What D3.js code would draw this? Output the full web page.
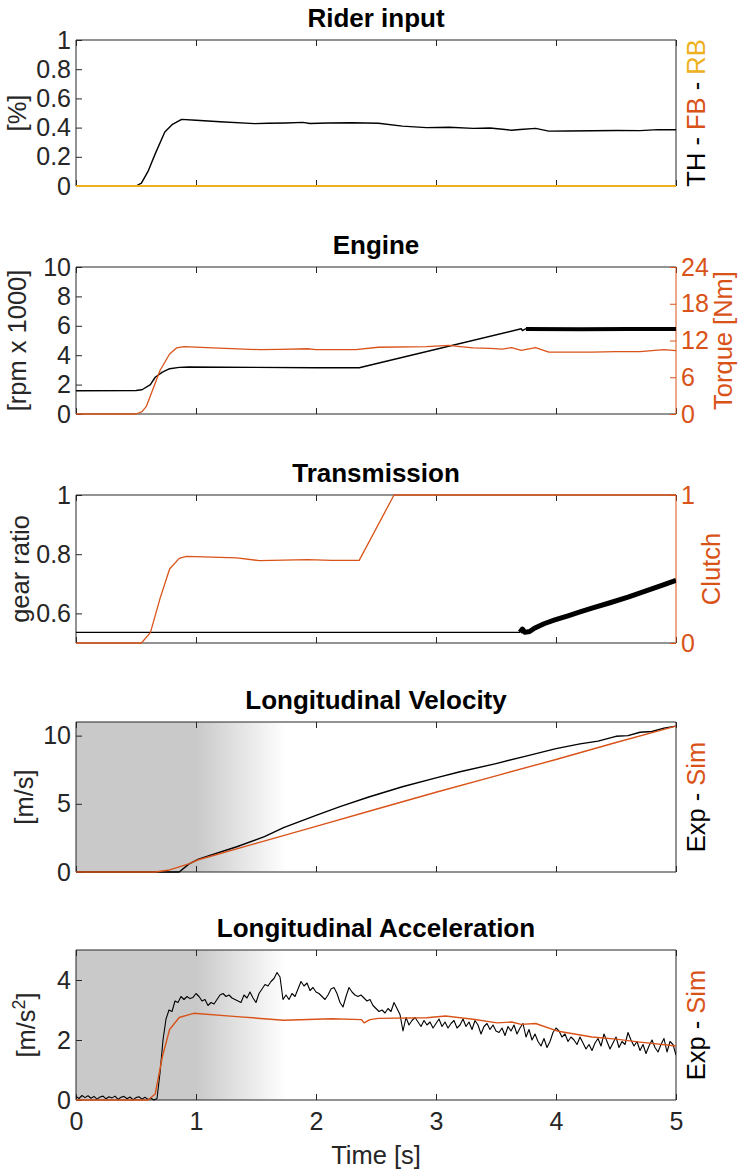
<!DOCTYPE html>
<html>
<head>
<meta charset="utf-8">
<script src="https://cdn.jsdelivr.net/npm/d3@7"></script>
<style>
  body { margin: 0; background: #fff; }
  text { font-family: "Liberation Sans", Arial, Helvetica, sans-serif; }
</style>
</head>
<body>
<div id="chart"></div>
<script>
const WIDTH = 741
const HEIGHT = 1172
const BLACK = '#000000'
const ORANGE = '#D95319'
const YELLOW = '#EDB120'
const AXIS_COLOR = '#262626'
const SHADE_COLOR = '#c9c9c9'
const TICK_FONT = 25
const LABEL_FONT = 25.5
const TITLE_FONT = 26

// ---- data ----
const T_DOMAIN = [0, 5]
const X_TICK_VALUES = [0, 1, 2, 3, 4, 5]
const PANEL_TITLES = ['Rider input', 'Engine', 'Transmission', 'Longitudinal Velocity', 'Longitudinal Acceleration']

// Rider input [t, value]
const throttle = [[0, 0], [0.5, 0], [0.545, 0.02], [0.6, 0.1], [0.66, 0.22], [0.74, 0.37], [0.8, 0.42], [0.88, 0.456],
  [1.0, 0.45], [1.2, 0.44], [1.49, 0.427], [1.6, 0.43], [1.75, 0.432], [1.89, 0.436], [1.95, 0.428], [2.1, 0.432],
  [2.3, 0.433], [2.52, 0.43], [2.72, 0.41], [2.92, 0.4], [3.11, 0.402], [3.31, 0.395], [3.45, 0.397], [3.63, 0.382],
  [3.7, 0.387], [3.83, 0.395], [3.94, 0.376], [4.1, 0.377], [4.3, 0.378], [4.5, 0.38], [4.7, 0.379], [4.85, 0.386], [5, 0.385]]
const frontBrake = [[0, 0], [5, 0]]
const rearBrake = [[0, 0], [5, 0]]

// Engine: rpm x 1000 (left) and torque Nm (right)
const engineRpm = [[0, 1.58], [0.5, 1.6], [0.55, 1.65], [0.62, 2.0], [0.66, 2.5], [0.72, 2.85], [0.78, 3.08], [0.86, 3.17],
  [0.94, 3.2], [1.5, 3.17], [2.0, 3.15], [2.36, 3.15], [3.71, 5.8], [3.72, 5.68], [3.75, 5.8]]
const engineRpmNoisy = [[3.75, 5.78], [4.2, 5.77], [4.6, 5.78], [5, 5.78]]
const engineTorque = [[0, 0], [0.5, 0], [0.55, 0.4], [0.585, 1.2], [0.64, 4], [0.7, 7.1], [0.78, 9.8], [0.84, 10.8],
  [0.9, 11.0], [1.14, 10.8], [1.53, 10.5], [1.7, 10.55], [1.93, 10.65], [2.0, 10.5], [2.33, 10.5], [2.52, 10.9],
  [2.92, 11.0], [3.11, 11.2], [3.2, 11.0], [3.31, 10.8], [3.45, 10.7], [3.55, 10.6], [3.63, 10.85], [3.71, 10.4],
  [3.83, 10.85], [3.94, 10.1], [4.3, 10.1], [4.5, 10.2], [4.7, 10.2], [4.9, 10.5], [5, 10.35]]

// Transmission: gear ratio (left) and clutch (right)
const gearRatio = [[0, 0.536], [3.7, 0.536]]
const gearRatioNoisy = [[3.7, 0.536], [3.72, 0.547], [3.74, 0.536], [3.78, 0.539], [3.82, 0.55], [3.9, 0.565],
  [3.99, 0.578], [4.1, 0.592], [4.2, 0.605], [4.3, 0.618], [4.45, 0.636], [4.6, 0.655], [4.78, 0.68], [4.9, 0.697], [5, 0.712]]
const clutch = [[0, 0], [0.545, 0], [0.62, 0.07], [0.7, 0.3], [0.78, 0.5], [0.86, 0.572], [0.92, 0.585], [1.34, 0.575],
  [1.53, 0.556], [1.93, 0.563], [2.13, 0.558], [2.36, 0.558], [2.65, 1], [5, 1]]

// Longitudinal velocity [m/s]
const velocityExp = [[0, 0], [0.86, 0], [0.94, 0.58], [1.02, 0.95], [1.34, 1.85], [1.57, 2.6], [1.73, 3.25], [2.0, 4.15],
  [2.2, 4.8], [2.44, 5.5], [2.72, 6.25], [3.0, 6.9], [3.2, 7.35], [3.5, 7.95], [3.75, 8.5], [4.0, 9.05], [4.2, 9.4],
  [4.35, 9.6], [4.5, 9.95], [4.6, 10.0], [4.7, 10.25], [4.8, 10.3], [4.9, 10.55], [5, 10.7]]
const velocitySim = [[0, 0], [0.66, 0], [0.78, 0.15], [0.94, 0.6], [1.02, 0.9], [1.5, 2.1], [2.0, 3.35], [2.5, 4.6],
  [3.0, 5.85], [3.5, 7.05], [4.0, 8.25], [4.5, 9.5], [5, 10.7]]

// Longitudinal acceleration [m/s^2], experiment sampled every ACC_DT seconds
const ACC_DT = 0.025
const accelExp = [
  0.12, 0.05, 0.15, 0.08, 0.14, 0.06, 0.12, 0.03, 0.10, 0.13,
  0.04, 0.11, 0.07, 0.13, 0.02, 0.09, 0.12, 0.04, 0.10, 0.01,
  0.08, 0.11, 0.03, 0.09, 0.02, 0.06, 0.00, 0.05, 0.9, 2.0,
  2.7, 3.0, 2.95, 3.3, 3.25, 3.45, 3.35, 3.45, 3.38, 3.42,
  3.55, 3.45, 3.3, 3.35, 3.15, 3.25, 3.2, 3.35, 3.5, 3.55,
  3.45, 3.5, 3.4, 3.35, 3.3, 3.25, 3.5, 3.4, 3.6, 3.4,
  3.25, 3.55, 3.7, 3.85, 3.8, 3.95, 4.05, 4.25, 4.1, 3.35,
  3.5, 3.35, 3.55, 3.45, 3.7, 3.95, 3.8, 3.9, 3.65, 3.75,
  3.6, 3.55, 3.45, 3.35, 3.5, 3.7, 3.75, 3.55, 3.25, 3.1,
  3.45, 3.75, 3.6, 3.5, 3.45, 3.5, 3.4, 3.3, 3.35, 3.15,
  3.05, 2.95, 3.0, 2.9, 3.05, 2.95, 3.25, 3.05, 2.85, 2.3,
  2.75, 2.5, 2.65, 2.75, 2.6, 2.45, 2.65, 2.5, 2.6, 2.4,
  2.55, 2.7, 2.45, 2.6, 2.4, 2.55, 2.65, 2.4, 2.5, 2.7,
  2.45, 2.6, 2.35, 2.65, 2.5, 2.2, 2.45, 2.55, 2.35, 2.5,
  2.3, 2.25, 2.4, 2.15, 2.45, 2.3, 2.5, 2.2, 2.4, 2.55,
  2.1, 2.35, 2.0, 2.2, 1.95, 1.8, 2.05, 1.75, 1.95, 2.25,
  2.4, 2.3, 2.1, 2.2, 1.95, 2.1, 2.0, 1.85, 2.1, 1.9,
  1.7, 1.85, 1.65, 1.9, 2.05, 1.8, 2.2, 1.95, 1.7, 1.9,
  2.1, 1.75, 1.95, 1.85, 2.25, 2.0, 1.8, 1.95, 1.65, 1.85,
  1.55, 1.8, 2.0, 1.75, 1.6, 1.85, 2.05, 1.6, 1.95, 1.85,
  1.5]
const accelSim = [[0, 0], [0.6, 0], [0.66, 0.2], [0.72, 1.45], [0.78, 2.35], [0.86, 2.75], [0.98, 2.89], [1.34, 2.78],
  [1.73, 2.66], [2.13, 2.71], [2.38, 2.68], [2.4, 2.57], [2.45, 2.68], [2.52, 2.72], [2.92, 2.74], [3.08, 2.8],
  [3.31, 2.69], [3.51, 2.57], [3.63, 2.6], [3.71, 2.52], [3.83, 2.55], [4.02, 2.29], [4.3, 2.1], [4.5, 2.03],
  [4.7, 1.93], [5, 1.8]]

// shaded region (seconds)
const SHADE_SOLID_END = 1.0
const SHADE_FADE_END = 1.75

// ---- layout ----
const PANEL_TOP = [40, 267, 495, 722, 950]
const PANEL_BOTTOM = [186, 414, 643, 872, 1100]
const PLOT_LEFT = 76
const PLOT_RIGHT = 676
const TICK_LEN = 6

const panels = [
  {
    yDomain: [0, 1], yTicks: [0, 0.2, 0.4, 0.6, 0.8, 1], yFormat: d => String(d),
    leftLabel: [{ t: '[%]' }], leftX: 26,
    rightLabel: [{ t: 'TH', c: BLACK }, { t: ' - ', c: BLACK }, { t: 'FB', c: ORANGE }, { t: ' - ', c: BLACK }, { t: 'RB', c: YELLOW }], rightX: 705,
    series: [
      { data: throttle, axis: 'left', color: BLACK, width: 1.4 },
      { data: frontBrake, axis: 'left', color: ORANGE, width: 2.2 },
      { data: rearBrake, axis: 'left', color: YELLOW, width: 2 }
    ]
  },
  {
    yDomain: [0, 10], yTicks: [0, 2, 4, 6, 8, 10], yFormat: d => String(d),
    y2Domain: [0, 24], y2Ticks: [0, 6, 12, 18, 24], y2Format: d => String(d),
    leftLabel: [{ t: '[rpm x 1000]' }], leftX: 26,
    rightLabel: [{ t: 'Torque [Nm]', c: ORANGE }], rightX: 732,
    series: [
      { data: engineRpm, axis: 'left', color: BLACK, width: 1.4 },
      { data: engineRpmNoisy, axis: 'left', color: BLACK, width: 4 },
      { data: engineTorque, axis: 'right', color: ORANGE, width: 1.3 }
    ]
  },
  {
    yDomain: [0.5, 1], yTicks: [0.6, 0.8, 1], yFormat: d => String(d),
    y2Domain: [0, 1], y2Ticks: [0, 1], y2Format: d => String(d),
    leftLabel: [{ t: 'gear ratio' }], leftX: 29,
    rightLabel: [{ t: 'Clutch', c: ORANGE }], rightX: 720,
    series: [
      { data: gearRatio, axis: 'left', color: BLACK, width: 1.4 },
      { data: gearRatioNoisy, axis: 'left', color: BLACK, width: 5 },
      { data: clutch, axis: 'right', color: ORANGE, width: 1.3 }
    ]
  },
  {
    yDomain: [0, 11], yTicks: [0, 5, 10], yFormat: d => String(d),
    leftLabel: [{ t: '[m/s]' }], leftX: 33,
    rightLabel: [{ t: 'Exp', c: BLACK }, { t: ' - ', c: BLACK }, { t: 'Sim', c: ORANGE }], rightX: 705,
    shaded: true,
    series: [
      { data: velocityExp, axis: 'left', color: BLACK, width: 1.4 },
      { data: velocitySim, axis: 'left', color: ORANGE, width: 1.4 }
    ]
  },
  {
    yDomain: [0, 5], yTicks: [0, 2, 4], yFormat: d => String(d),
    leftLabel: [{ t: '[m/s' }, { t: '2', sup: true }, { t: ']' }], leftX: 35,
    rightLabel: [{ t: 'Exp', c: BLACK }, { t: ' - ', c: BLACK }, { t: 'Sim', c: ORANGE }], rightX: 705,
    shaded: true,
    series: [
      { data: accelExp.map((v, i) => [i * ACC_DT, v]), axis: 'left', color: BLACK, width: 1.1 },
      { data: accelSim, axis: 'left', color: ORANGE, width: 1.4 }
    ]
  }
]

// ---- drawing ----
const svg = d3.select('#chart').append('svg')
  .attr('width', WIDTH)
  .attr('height', HEIGHT)
  .style('background', '#fff')

const defs = svg.append('defs')
const x = d3.scaleLinear().domain(T_DOMAIN).range([PLOT_LEFT, PLOT_RIGHT])

const fade = defs.append('linearGradient')
  .attr('id', 'fade')
  .attr('gradientUnits', 'userSpaceOnUse')
  .attr('x1', x(SHADE_SOLID_END)).attr('x2', x(SHADE_FADE_END))
  .attr('y1', 0).attr('y2', 0)
fade.append('stop').attr('offset', 0).attr('stop-color', SHADE_COLOR)
fade.append('stop').attr('offset', 1).attr('stop-color', '#ffffff')

function addLabel (g, parts, px, py, defaultColor) {
  const text = g.append('text')
    .attr('transform', 'translate(' + px + ',' + py + ') rotate(-90)')
    .attr('text-anchor', 'middle')
    .attr('font-size', LABEL_FONT)
    .attr('fill', defaultColor)
    .style('white-space', 'pre')
  parts.forEach(p => {
    const ts = text.append('tspan').text(p.t)
    if (p.c) ts.attr('fill', p.c)
    if (p.sup) ts.attr('baseline-shift', 'super').attr('font-size', LABEL_FONT * 0.7)
  })
}

panels.forEach((cfg, i) => {
  const top = PANEL_TOP[i]
  const bottom = PANEL_BOTTOM[i]
  const g = svg.append('g')
  const y = d3.scaleLinear().domain(cfg.yDomain).range([bottom, top])
  const y2 = cfg.y2Domain ? d3.scaleLinear().domain(cfg.y2Domain).range([bottom, top]) : y

  defs.append('clipPath').attr('id', 'clip' + i)
    .append('rect')
    .attr('x', PLOT_LEFT).attr('y', top - 2)
    .attr('width', PLOT_RIGHT - PLOT_LEFT).attr('height', bottom - top + 4)

  // shaded transient region
  if (cfg.shaded) {
    g.append('rect')
      .attr('x', x(T_DOMAIN[0]))
      .attr('y', top)
      .attr('width', x(SHADE_FADE_END) - x(T_DOMAIN[0]))
      .attr('height', bottom - top)
      .attr('fill', 'url(#fade)')
  }

  // x ticks (bottom and top, inside)
  const lastPanel = i === panels.length - 1
  const xb = g.append('g')
    .attr('transform', 'translate(0,' + bottom + ')')
    .call(d3.axisBottom(x).tickValues(X_TICK_VALUES).tickSizeInner(-TICK_LEN).tickSizeOuter(0)
      .tickPadding(12).tickFormat(lastPanel ? d3.format('d') : () => ''))
  const xt = g.append('g')
    .attr('transform', 'translate(0,' + top + ')')
    .call(d3.axisTop(x).tickValues(X_TICK_VALUES).tickSizeInner(-TICK_LEN).tickSizeOuter(0).tickFormat(() => ''))

  // left y axis
  const yl = g.append('g')
    .attr('transform', 'translate(' + PLOT_LEFT + ',0)')
    .call(d3.axisLeft(y).tickValues(cfg.yTicks).tickSizeInner(-TICK_LEN).tickSizeOuter(0)
      .tickPadding(5).tickFormat(cfg.yFormat))

  ;[xb, xt, yl].forEach(a => {
    a.select('.domain').remove()
    a.selectAll('line').attr('stroke', AXIS_COLOR)
    a.selectAll('text').attr('fill', AXIS_COLOR).attr('font-size', TICK_FONT)
      .attr('font-family', '"Liberation Sans", Arial, sans-serif')
  })

  // box
  g.append('path')
    .attr('d', 'M' + PLOT_RIGHT + ',' + top + 'H' + PLOT_LEFT + 'V' + bottom + 'H' + PLOT_RIGHT)
    .attr('fill', 'none').attr('stroke', AXIS_COLOR).attr('stroke-width', 1)

  // right axis
  if (cfg.y2Domain) {
    const yr = g.append('g')
      .attr('transform', 'translate(' + PLOT_RIGHT + ',0)')
      .call(d3.axisRight(y2).tickValues(cfg.y2Ticks).tickSizeInner(-TICK_LEN).tickSizeOuter(0)
        .tickPadding(5).tickFormat(cfg.y2Format))
    yr.select('.domain').remove()
    yr.selectAll('line').attr('stroke', ORANGE)
    yr.selectAll('text').attr('fill', ORANGE).attr('font-size', TICK_FONT)
      .attr('font-family', '"Liberation Sans", Arial, sans-serif')
    g.append('line')
      .attr('x1', PLOT_RIGHT).attr('x2', PLOT_RIGHT).attr('y1', top).attr('y2', bottom)
      .attr('stroke', ORANGE).attr('stroke-width', 1)
  } else {
    g.append('line')
      .attr('x1', PLOT_RIGHT).attr('x2', PLOT_RIGHT).attr('y1', top).attr('y2', bottom)
      .attr('stroke', AXIS_COLOR).attr('stroke-width', 1)
  }

  // series (on top of the box so lines on the axis stay visible)
  const plot = g.append('g').attr('clip-path', 'url(#clip' + i + ')')
  cfg.series.forEach(s => {
    const ys = s.axis === 'right' ? y2 : y
    plot.append('path')
      .datum(s.data)
      .attr('d', d3.line().x(d => x(d[0])).y(d => ys(d[1])))
      .attr('fill', 'none')
      .attr('stroke', s.color)
      .attr('stroke-width', s.width)
      .attr('stroke-linejoin', 'round')
  })

  // title
  g.append('text')
    .attr('x', (PLOT_LEFT + PLOT_RIGHT) / 2)
    .attr('y', top - 13)
    .attr('text-anchor', 'middle')
    .attr('font-size', TITLE_FONT)
    .attr('font-weight', 'bold')
    .attr('fill', BLACK)
    .text(PANEL_TITLES[i])

  // axis labels
  addLabel(g, cfg.leftLabel, cfg.leftX, (top + bottom) / 2, AXIS_COLOR)
  addLabel(g, cfg.rightLabel, cfg.rightX, (top + bottom) / 2, BLACK)
})

svg.append('text')
  .attr('x', (PLOT_LEFT + PLOT_RIGHT) / 2)
  .attr('y', 1164)
  .attr('text-anchor', 'middle')
  .attr('font-size', LABEL_FONT)
  .attr('fill', AXIS_COLOR)
  .text('Time [s]')
</script>
</body>
</html>
